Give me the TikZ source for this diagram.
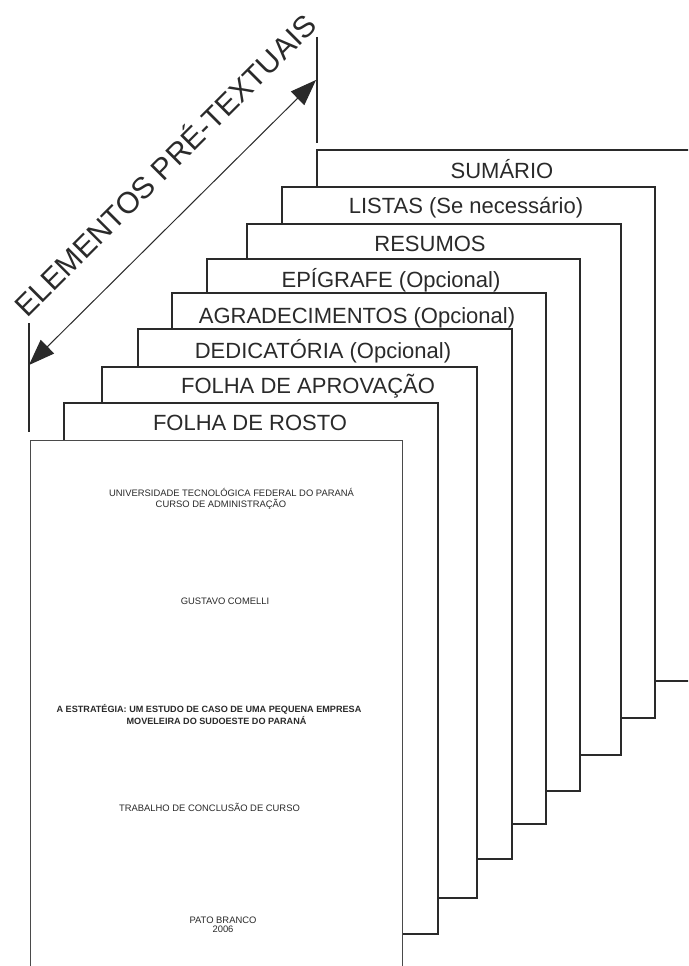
\documentclass[tikz,border=0pt]{standalone}
\usepackage{fontspec}
\setmainfont{Liberation Sans}
\usetikzlibrary{arrows.meta}
\definecolor{ink}{HTML}{2A2A2A}
\tikzset{
  pagebox/.style={draw=ink, fill=white, line width=1.2pt, anchor=north west,
    minimum width=374pt, minimum height=531pt, inner sep=0pt, outer sep=0pt},
  coverbox/.style={pagebox, draw=ink!85, line width=1pt, minimum width=372pt},
  lbl/.style={anchor=base, inner sep=0pt, text=ink, font=\fontsize{22}{26}\selectfont},
  small/.style={anchor=base, inner sep=0pt, text=ink, font=\fontsize{9.4}{11}\selectfont},
  smallb/.style={anchor=base, inner sep=0pt, text=ink, font=\fontsize{9.1}{11}\selectfont\bfseries},
  guide/.style={draw=ink, line width=1.1pt},
  dimarrow/.style={draw=ink, line width=1pt,
    {Triangle[length=26pt,width=19pt]}-{Triangle[length=26pt,width=19pt]}}
}
\begin{document}
\begin{tikzpicture}[x=1pt,y=-1pt]
\clip (0,0) rectangle (688,966);
\fill[white] (0,0) rectangle (688,966);
% pages, back to front
\node[pagebox] (sumario) at (317,150) {};
\node[pagebox, minimum width=373pt] (listas) at (282,187) {};
\node[pagebox] (resumos) at (247,224) {};
\node[pagebox, minimum width=373pt, minimum height=532pt] (epigrafe) at (207,259) {};
\node[pagebox] (agrad) at (172,293) {};
\node[pagebox, minimum height=530pt] (dedic) at (138,329) {};
\node[pagebox, minimum width=375pt] (aprov) at (102,367) {};
\node[pagebox] (rosto) at (64,403) {};
\node[coverbox] (capa) at (30,440) {};
% page labels
\node[lbl] (tsum) at (502,178) {SUMÁRIO};
\node[lbl] (tlis) at (466,213) {LISTAS (Se necessário)};
\node[lbl] (tres) at (430,251) {RESUMOS};
\node[lbl] (tepi) at (391,287) {EPÍGRAFE (Opcional)};
\node[lbl] (tagr) at (357,323) {AGRADECIMENTOS (Opcional)};
\node[lbl] (tded) at (323,358) {DEDICATÓRIA (Opcional)};
\node[lbl] (tapr) at (308,393) {FOLHA DE APROVAÇÃO};
\node[lbl] (tros) at (250,430) {FOLHA DE ROSTO};
% cover text
\node[small] (c1) at (231.5,496.5) {UNIVERSIDADE TECNOLÓGICA FEDERAL DO PARANÁ};
\node[small] (c2) at (221,507.5) {CURSO DE ADMINISTRAÇÃO};
\node[small] (c3) at (225,604) {GUSTAVO COMELLI};
\node[smallb] (c4) at (209,712.5) {A ESTRATÉGIA: UM ESTUDO DE CASO DE UMA PEQUENA EMPRESA};
\node[smallb] (c5) at (216.5,724) {MOVELEIRA DO SUDOESTE DO PARANÁ};
\node[small] (c6) at (209.5,811) {TRABALHO DE CONCLUSÃO DE CURSO};
\node[small] (c7) at (223,923) {PATO BRANCO};
\node[small] (c8) at (223,932) {2006};
% dimension guides and arrow
\coordinate (gl1) at (29,323);
\coordinate (gl2) at (29,432);
\coordinate (gr1) at (317,37);
\coordinate (gr2) at (317,143);
\coordinate (a1) at (29,365);
\coordinate (a2) at (316,80);
\draw[guide] (gl1) -- (gl2);
\draw[guide] (gr1) -- (gr2);
\draw[dimarrow] (a1) -- (a2);
\node[anchor=base, rotate=45, inner sep=0pt, text=ink, font=\fontsize{30}{34}\selectfont] (title) at (173,173) {ELEMENTOS PRÉ-TEXTUAIS};
\end{tikzpicture}
\end{document}
